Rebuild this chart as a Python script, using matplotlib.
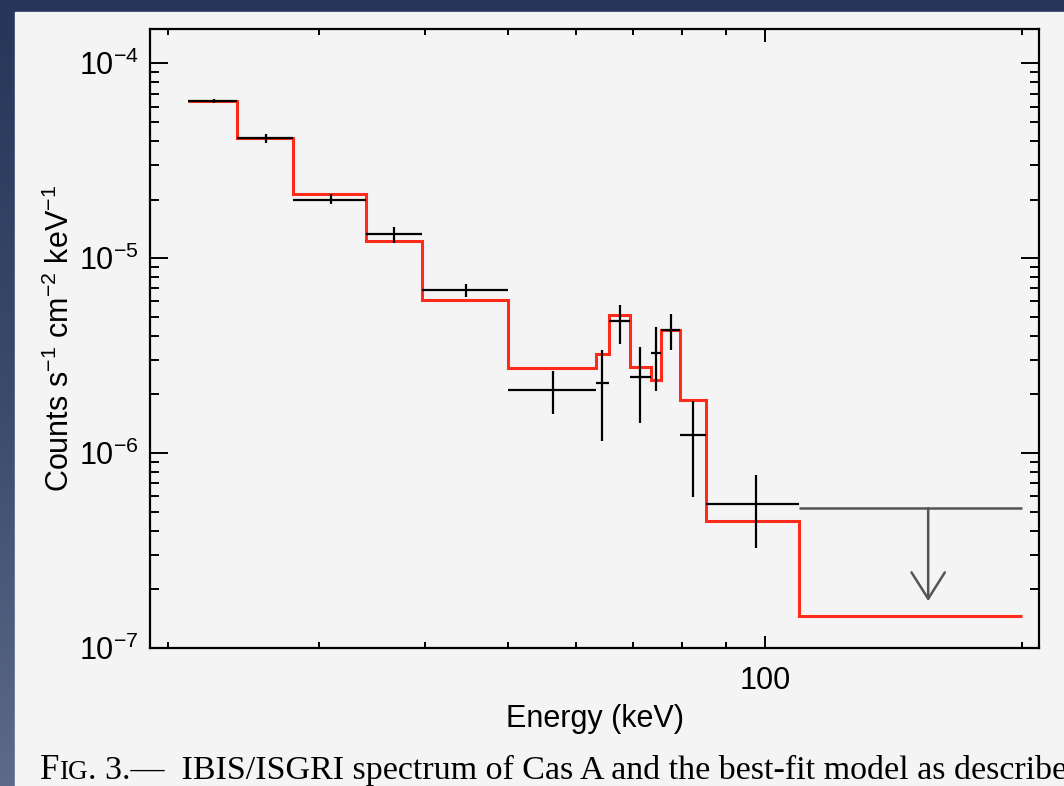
import matplotlib
matplotlib.use('Agg')
import matplotlib.pyplot as plt
import numpy as np
from matplotlib.ticker import LogLocator, NullFormatter, FixedLocator, FixedFormatter
from matplotlib.patches import Rectangle

plt.rcParams['font.family'] = ['Liberation Sans', 'DejaVu Sans']
plt.rcParams['mathtext.fontset'] = 'custom'
plt.rcParams['mathtext.rm'] = 'Liberation Sans'
plt.rcParams['mathtext.it'] = 'Liberation Sans'

# ISGRI bins (keV) and best-fit model per bin
edges = [21.1, 24.05, 27.97, 34.1, 39.6, 50.0, 63.4, 65.7, 69.5, 73.5, 75.6, 79.5, 85.4, 109.5, 200.0]
model = [6.42e-5, 4.13e-5, 2.13e-5, 1.22e-5, 6.08e-6, 2.74e-6, 3.21e-6, 5.09e-6,
         2.76e-6, 2.38e-6, 4.26e-6, 1.875e-6, 4.49e-7, 1.46e-7]

# measured points
energy = [22.6, 26.0, 31.0, 36.8, 44.7, 56.5, 64.5, 67.6, 71.4, 74.5, 77.6, 82.3, 97.6]
flux = [6.42e-5, 4.14e-5, 2.00e-5, 1.324e-5, 6.85e-6, 2.11e-6, 2.29e-6, 4.74e-6,
        2.47e-6, 3.26e-6, 4.30e-6, 1.243e-6, 5.51e-7]
flux_hi = [6.57e-5, 4.33e-5, 2.13e-5, 1.443e-5, 7.41e-6, 2.65e-6, 3.39e-6, 5.73e-6,
           3.50e-6, 4.43e-6, 5.19e-6, 1.86e-6, 7.72e-7]
flux_lo = [6.27e-5, 3.92e-5, 1.89e-5, 1.195e-5, 6.32e-6, 1.589e-6, 1.158e-6, 3.64e-6,
           1.422e-6, 2.09e-6, 3.39e-6, 5.97e-7, 3.27e-7]

# upper limit in the last bin
ul_energy = 155.3
ul_flux = 5.22e-7
ul_tip = 1.74e-7

caption = 'IBIS/ISGRI spectrum of Cas A and the best-fit model as described'

W, H = 1064, 786
fig = plt.figure(figsize=(W / 100, H / 100), dpi=100)

# slide background + page
bg = fig.add_axes([0, 0, 1, 1], zorder=-10)
grad = np.linspace(0, 1, 256).reshape(-1, 1)
cmap = matplotlib.colors.LinearSegmentedColormap.from_list('bg', ['#5d6a89', '#3a4a6c', '#27355a'])
bg.imshow(grad, aspect='auto', cmap=cmap, origin='lower', extent=[0, 1, 0, 1])
bg.add_patch(Rectangle((15 / W, 0), 1, 1 - 12 / H, color='#f4f4f4', transform=bg.transAxes))
bg.set_xlim(0, 1)
bg.set_ylim(0, 1)
bg.axis('off')

ax = fig.add_axes([150 / W, 1 - 648 / H, 889 / W, 619 / H])
ax.set_facecolor('#f4f4f4')
ax.set_xscale('log')
ax.set_yscale('log')
ax.set_xlim(19.04, 209.4)
ax.set_ylim(1e-7, 1.5e-4)

ax.stairs(model, edges, baseline=None, color='#ff2a1a', lw=2.2, zorder=2)

e = np.array(energy)
f = np.array(flux)
xerr = [e - np.array(edges[:13]), np.array(edges[1:14]) - e]
yerr = [f - np.array(flux_lo), np.array(flux_hi) - f]
ax.errorbar(e, f, xerr=xerr, yerr=yerr, fmt='none', ecolor='black', elinewidth=1.6, capsize=0, zorder=3)

ax.hlines(ul_flux, edges[13], edges[14], color='#555555', lw=1.8, zorder=3)
ax.annotate('', xy=(ul_energy, ul_tip), xytext=(ul_energy, ul_flux),
            arrowprops=dict(arrowstyle='->,head_length=0.95,head_width=0.6', color='#555555',
                            lw=1.8, mutation_scale=20, shrinkA=0, shrinkB=0), zorder=3)

ax.xaxis.set_major_locator(FixedLocator([100]))
ax.xaxis.set_major_formatter(FixedFormatter(['100']))
ax.xaxis.set_minor_locator(LogLocator(base=10, subs=np.arange(2, 10)))
ax.xaxis.set_minor_formatter(NullFormatter())
ax.yaxis.set_minor_locator(LogLocator(base=10, subs=np.arange(2, 10)))
ax.yaxis.set_minor_formatter(NullFormatter())

ax.tick_params(which='both', direction='in', top=True, right=True, width=1.4, labelsize=22)
ax.tick_params(axis='x', which='major', length=9, pad=13)
ax.tick_params(axis='x', which='minor', length=4)
ax.tick_params(axis='y', which='major', length=13, pad=8)
ax.tick_params(axis='y', which='minor', length=6.5)
for s in ax.spines.values():
    s.set_linewidth(1.6)

ax.set_xlabel('Energy (keV)', fontsize=22, labelpad=6)
ax.set_ylabel(r'Counts s$^{-1}$ cm$^{-2}$ keV$^{-1}$', fontsize=22, labelpad=2)

# figure caption, small caps for "Fig."
r = fig.canvas.get_renderer()
x0, y0 = 40 / W, 1 - 779 / H
serif = ['Liberation Serif', 'DejaVu Serif']
parts = [('F', 25), ('IG', 19.5), ('. 3.\u2014  ' + caption, 24.5)]
for txt, size in parts:
    t = fig.text(x0, y0, txt, fontsize=size, family=serif, va='baseline', ha='left')
    x0 += t.get_window_extent(r).width / W

fig.savefig('out.png', dpi=100, facecolor=fig.get_facecolor())
